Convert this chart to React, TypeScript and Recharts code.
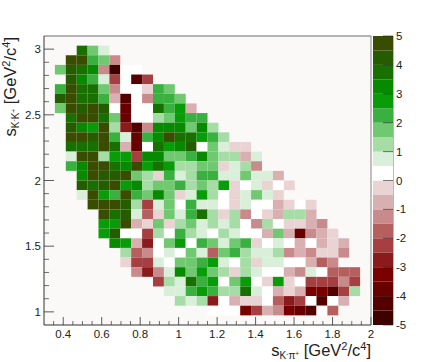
import React from "react";
import { ScatterChart, Scatter, XAxis, YAxis, CartesianGrid } from "recharts";

// Histogram binning: 30 x 30 bins
const xMin = 0.3;
const xMax = 2.0;
const yMin = 0.9;
const yMax = 3.1;
const nBins = 30;

// First filled column of every row, top row of the frame first
const rowStarts = [3, 2, 1, 2, 1, 1, 1, 2, 2, 2, 2, 2, 2, 3, 3, 3, 4, 5, 5, 5, 6, 7, 7, 8, 10, 11, 12, 15];

// Bin contents per row
const row01 = [3.8, 1.8, 0.8];
const row02 = [4.8, 4.8, 2.3, 1.8, -1.3];
const row03 = [1.8, 4.3, 3.8, 3.3, -1.3, -4.8, 0.3, 0.3];
const row04 = [4.3, 3.3, 2.3, 0.8, -2.3, 0.3, -4.3, -2.3];
const row05 = [2.3, 4.8, 3.8, 3.8, 1.8, -1.3, 0.3, 0.3, -0.3, 2.3, 1.8];
const row06 = [4.3, 4.8, 3.8, 3.8, 2.3, -0.8, -4.3, 0.3, -1.3, 2.3, 2.3, 1.8];
const row07 = [1.8, 4.8, 4.3, 4.8, 4.3, 0.3, -3.8, 0.3, 0.3, 3.8, 2.3, 2.8, -0.8];
const row08 = [3.8, 4.8, 4.8, 3.8, 1.8, -3.8, 0.3, 0.3, 1.3, 1.8, 2.8, 2.3, 2.3];
const row09 = [4.3, 3.3, 2.8, 4.8, 1.3, -2.8, -4.3, -1.3, 3.3, 3.3, 3.3, 1.8, 3.3, 1.3];
const row10 = [4.8, 4.8, 4.3, 4.8, 2.3, 0.8, -3.8, 2.3, 3.3, 4.8, 3.8, 3.8, 2.8, 2.3, 1.3];
const row11 = [3.8, 3.8, 3.8, 4.8, 3.8, -0.8, -3.8, 0.3, 3.8, 2.8, 3.3, 4.3, 0.3, 1.8, 0.8, -0.3, -0.3];
const row12 = [0.8, 4.8, 4.8, 1.3, 2.8, 2.8, -2.3, 3.3, 3.3, 1.8, 1.8, 2.3, 3.3, 1.8, 1.3, 1.3, -0.8, 0.8];
const row13 = [2.3, 3.3, 4.8, 4.8, 3.8, 3.3, 4.8, 2.8, 3.8, 2.8, 1.3, 1.3, 1.8, 1.8, -0.3, 0.8, 1.3, -1.3];
const row14 = [3.3, 4.8, 4.3, 4.3, 4.8, 1.8, 1.3, -0.3, 2.3, 0.8, 1.3, 2.3, 2.3, 0.8, 0.8, 1.8, 0.8, 0.8, -0.8];
const row15 = [4.3, 3.8, 4.3, 4.8, 2.8, 3.3, 1.3, 1.8, 1.8, 2.3, 1.3, 1.8, 1.3, 2.8, -0.3, 0.3, 0.8, -0.3, 0.3, -0.3];
const row16 = [0.8, 4.8, 2.8, 2.3, 4.8, 2.3, 1.8, 3.3, 1.8, -0.3, 0.8, 2.8, 1.3, 0.3, -0.3, 0.8, 1.8, 0.8, -0.3];
const row17 = [4.8, 4.8, 4.8, 4.3, 1.3, -2.3, 0.8, 1.8, 0.3, 2.3, 0.8, 0.8, 0.3, -0.3, 0.8, 0.3, 0.3, -0.8, -0.3, 0.3, -0.3];
const row18 = [4.8, 3.8, 4.3, 0.8, -1.8, -0.3, 1.8, 0.8, 2.3, 3.8, 1.3, -0.3, 1.3, -1.3, 0.3, -0.3, -0.8, 1.3, 1.3, -0.8];
const row19 = [2.8, 2.8, 4.8, -0.8, -0.3, 1.8, -0.3, 1.3, 1.8, 0.8, 1.3, 0.8, 1.3, 0.3, -1.3, 1.3, 0.3, -0.3, -0.3, -0.8, -1.3];
const row20 = [2.8, 4.3, 0.3, 0.3, -2.3, 1.3, 0.3, 2.3, 1.3, 0.8, 0.3, 1.3, 0.8, 0.3, 0.3, -0.8, 1.8, -0.8, -3.8, -1.3, -0.8, -0.3];
const row21 = [3.3, 2.8, -0.8, -2.8, 0.3, 1.8, 2.8, 0.3, 2.3, 1.8, 0.8, 1.8, 2.3, -0.3, 0.3, 0.8, 0.3, -0.8, 0.3, -0.8, -0.3, -0.8];
const row22 = [1.3, -1.8, -1.3, 0.3, 0.8, 0.3, 1.8, 0.8, -1.8, 1.8, 2.3, 1.3, 0.8, 0.8, 1.3, -1.3, -0.8, -1.3, -0.3, -0.3, -1.3];
const row23 = [-0.3, -2.3, -2.3, 0.8, 0.3, 1.8, 1.8, 2.3, 2.8, 0.8, 0.3, 1.3, -0.3, 0.8, 0.8, 0.3, 0.3, -0.8, -1.8, -1.3];
const row24 = [-1.3, -2.8, -1.3, 0.8, 3.3, 1.8, 2.8, 1.8, 1.3, -0.3, 1.3, 0.8, 0.3, 0.3, -0.8, -1.3, 0.8, 0.3, -1.8, -1.8, -1.8];
const row25 = [-2.3, 1.3, 0.8, 3.8, 2.3, 2.8, 0.3, 1.8, 2.8, 0.3, -0.3, 2.8, -0.3, 0.3, -2.3, -2.3, -2.3, -1.3, -2.3];
const row26 = [0.8, 0.8, 2.3, 2.8, 2.3, 1.3, 1.3, 3.8, 0.8, 0.3, -0.8, -0.3, -0.8, -3.3, -3.3, -4.3, -2.3, 1.3];
const row27 = [1.3, 0.8, 1.3, -2.8, 0.3, -0.8, -0.3, -0.3, 0.3, -1.8, -2.8, -2.3, 0.3, -4.3, 0.3, -0.8];
const row28 = [0.3, 0.3, 0.3, -3.3, -2.3, -0.8, -1.3, -3.3, -3.8, -4.3, 0.3, -1.8];

const rows = [
  row01, row02, row03, row04, row05, row06, row07, row08, row09, row10, row11, row12, row13, row14,
  row15, row16, row17, row18, row19, row20, row21, row22, row23, row24, row25, row26, row27, row28,
];

// Colour palette, from -5 up to 5 in steps of 0.5
const palette = [
  "#3f0000", "#550000", "#690000", "#7a0000", "#8a1a1c", "#a53f42", "#b5605f", "#c88a8a", "#d9b0b2", "#e9d3d3",
  "#ffffff", "#d9efd9", "#a6dca6", "#70c870", "#3ab040", "#099c09", "#088a00", "#187000", "#255c00", "#3a4c00",
];
const paletteCentres = [
  -4.75, -4.25, -3.75, -3.25, -2.75, -2.25, -1.75, -1.25, -0.75, -0.25,
  0.25, 0.75, 1.25, 1.75, 2.25, 2.75, 3.25, 3.75, 4.25, 4.75,
];

const xTicks = [
  0.35, 0.4, 0.45, 0.5, 0.55, 0.6, 0.65, 0.7, 0.75, 0.8, 0.85, 0.9, 0.95, 1, 1.05, 1.1, 1.15, 1.2,
  1.25, 1.3, 1.35, 1.4, 1.45, 1.5, 1.55, 1.6, 1.65, 1.7, 1.75, 1.8, 1.85, 1.9, 1.95, 2,
];
const xLabels = [0.4, 0.6, 0.8, 1, 1.2, 1.4, 1.6, 1.8, 2];
const yTicks = [1, 1.1, 1.2, 1.3, 1.4, 1.5, 1.6, 1.7, 1.8, 1.9, 2, 2.1, 2.2, 2.3, 2.4, 2.5, 2.6, 2.7, 2.8, 2.9, 3];
const yLabels = [1, 1.5, 2, 2.5, 3];
const zTicks = [-5, -4, -3, -2, -1, 0, 1, 2, 3, 4, 5];

const FONT = "'Liberation Sans', Arial, sans-serif";
const PLOT_W = 327;
const PLOT_H = 289;
const BAR_W = 20;

const colourOf = (v: number) => {
  const i = Math.floor(v * 2) + 10;
  return palette[Math.max(0, Math.min(19, i))];
};

const cells = rows.flatMap((row, j) =>
  row.map((z, k) => ({
    x: xMin + ((rowStarts[j] + k + 0.5) * (xMax - xMin)) / nBins,
    y: yMax - ((j + 1.5) * (yMax - yMin)) / nBins,
    z,
  })),
);

const barCells = paletteCentres.map((z) => ({ x: 0, y: z, z }));

const HeatCell = (props: any) => {
  const { cx, cy, payload } = props;
  const w = PLOT_W / nBins;
  const h = PLOT_H / nBins;
  return <rect x={cx - w / 2} y={cy - h / 2} width={w} height={h} fill={colourOf(payload.z)} />;
};

const BarCell = (props: any) => {
  const { cx, cy, payload } = props;
  const h = PLOT_H / 20;
  return <rect x={cx - BAR_W / 2} y={cy - h / 2} width={BAR_W} height={h} fill={colourOf(payload.z)} />;
};

const XTick = (props: any) => {
  const { x, y, payload } = props;
  const major = xLabels.includes(payload.value);
  return (
    <g>
      <line x1={x} x2={x} y1={y} y2={y - (major ? 8 : 4)} stroke="#333" strokeWidth={major ? 0.8 : 0.7} />
      {major && (
        <text x={x} y={y + 13} textAnchor="middle" fontSize={11.5} fontFamily={FONT} fill="#222">
          {payload.value}
        </text>
      )}
    </g>
  );
};

const YTick = (props: any) => {
  const { x, y, payload } = props;
  const major = yLabels.includes(payload.value);
  return (
    <g>
      <line x1={x} x2={x + (major ? 10 : 5)} y1={y} y2={y} stroke="#333" strokeWidth={major ? 0.8 : 0.7} />
      {major && (
        <text x={x - 3} y={y + 4} textAnchor="end" fontSize={11.5} fontFamily={FONT} fill="#222">
          {payload.value}
        </text>
      )}
    </g>
  );
};

const ZTick = (props: any) => {
  const { x, y, payload } = props;
  return (
    <g>
      <line x1={x} x2={x - 10} y1={y} y2={y} stroke="#222" strokeOpacity={0.75} strokeWidth={0.8} />
      <text x={x + 3} y={y + 4} textAnchor="start" fontSize={11.5} fontFamily={FONT} fill="#222">
        {payload.value}
      </text>
    </g>
  );
};

export default function App() {
  return (
    <div style={{ position: "absolute", left: 0, top: 0, width: 436, height: 362, background: "#fff" }}>
      <div style={{ position: "absolute", left: 0, top: 0 }}>
        <ScatterChart width={436} height={362} margin={{ top: 36, right: 65, bottom: 0, left: 0 }}>
          <CartesianGrid horizontal={false} vertical={false} fill="#fbf9f7" stroke="none" />
          <XAxis
            type="number"
            dataKey="x"
            domain={[xMin, xMax]}
            ticks={xTicks}
            interval={0}
            height={37}
            tickSize={0}
            tickMargin={0}
            tick={XTick}
            stroke="#333"
            allowDataOverflow
          />
          <YAxis
            type="number"
            dataKey="y"
            domain={[yMin, yMax]}
            ticks={yTicks}
            interval={0}
            width={44}
            tickSize={0}
            tickMargin={0}
            tick={YTick}
            stroke="#333"
            allowDataOverflow
          />
          <Scatter data={cells} shape={HeatCell} isAnimationActive={false} />
        </ScatterChart>
      </div>
      <div style={{ position: "absolute", left: 372, top: 0 }}>
        <ScatterChart width={64} height={362} margin={{ top: 36, right: 0, bottom: 37, left: 1 }}>
          <XAxis type="number" dataKey="x" domain={[-1, 1]} hide />
          <YAxis
            type="number"
            dataKey="y"
            orientation="right"
            domain={[-5, 5]}
            ticks={zTicks}
            interval={0}
            width={43}
            tickSize={0}
            tickMargin={0}
            tick={ZTick}
            stroke="#777"
            allowDataOverflow
          />
          <Scatter data={barCells} shape={BarCell} isAnimationActive={false} />
        </ScatterChart>
      </div>
      <svg width={436} height={362} style={{ position: "absolute", left: 0, top: 0, pointerEvents: "none" }}>
        <line x1={44} x2={371} y1={36} y2={36} stroke="#444" strokeWidth={0.8} />
        <line x1={371} x2={371} y1={36} y2={325} stroke="#666" strokeWidth={0.8} />
        <text x={371} y={355.5} textAnchor="end" fontSize={16.5} fontFamily={FONT} fill="#222">
          s
          <tspan fontSize={10} dy={3}>K</tspan>
          <tspan fontSize={6.5} dy={-3}>-</tspan>
          <tspan fontSize={10} dy={3}>π</tspan>
          <tspan fontSize={6.5} dy={-3}>+</tspan>
          <tspan dy={0}> [GeV</tspan>
          <tspan fontSize={11} dy={-6}>2</tspan>
          <tspan dy={6}>/c</tspan>
          <tspan fontSize={11} dy={-6}>4</tspan>
          <tspan dy={6}>]</tspan>
        </text>
        <text transform="translate(16,37) rotate(-90)" textAnchor="end" fontSize={16.5} fontFamily={FONT} fill="#222">
          s
          <tspan fontSize={10} dy={3}>K</tspan>
          <tspan fontSize={6.5} dy={-3}>-</tspan>
          <tspan fontSize={10} dy={3}>K</tspan>
          <tspan fontSize={6.5} dy={-3}>+</tspan>
          <tspan dy={0}> [GeV</tspan>
          <tspan fontSize={11} dy={-6}>2</tspan>
          <tspan dy={6}>/c</tspan>
          <tspan fontSize={11} dy={-6}>4</tspan>
          <tspan dy={6}>]</tspan>
        </text>
      </svg>
    </div>
  );
}
